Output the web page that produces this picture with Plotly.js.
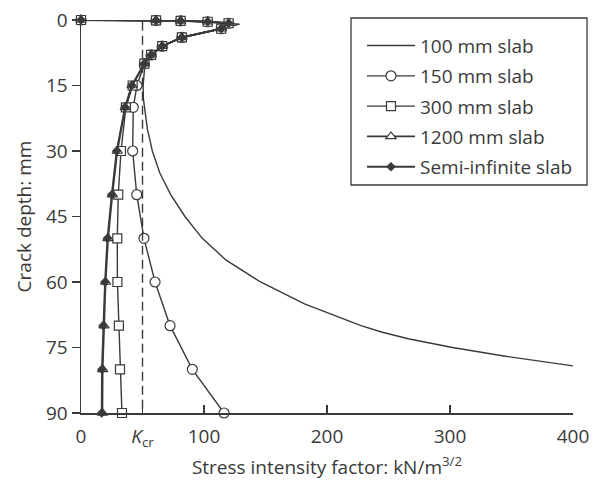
<!DOCTYPE html>
<html>
<head>
<meta charset="utf-8">
<script src="https://cdn.plot.ly/plotly-3.0.1.min.js"></script>
<style>html,body{margin:0;padding:0;background:#fff;}#chart{width:598px;height:484px;}</style>
</head>
<body>
<div id="chart"></div>
<script>
// Crack depth (mm) and stress intensity factor (kN/m^3/2)
var depth100 = [0, 0.1, 0.2, 0.4, 0.75, 0.95, 2, 4, 6, 8, 10, 15, 18, 20, 25, 30, 35, 40, 45, 50, 55, 60, 65, 70, 71.5, 73, 75, 77, 79.2];
var k100     = [0, 61, 81, 103, 120, 129, 114, 82, 66, 57, 52, 50.5, 50.7, 51.5, 54, 58, 64, 72.9, 84.5, 98.6, 118, 146, 181.7, 227.6, 245, 266, 302, 345, 400];

var depthPts = [0, 0.1, 0.2, 0.4, 0.75, 2, 4, 6, 8, 10, 15, 20, 30, 40, 50, 60, 70, 80, 90];
var k150  = [0, 61, 81, 103, 120, 114, 82, 66, 57, 51.5, 45.5, 42.5, 42, 45.3, 51.2, 60.2, 72.4, 90.5, 116.3];
var k300  = [0, 61, 81, 103, 120, 114, 82, 66, 57, 51.5, 42, 36.5, 32.5, 30.3, 29.5, 29.6, 30.8, 31.7, 33.3];
var k1200 = [0, 61, 81, 103, 120, 114, 82, 66, 57, 51.5, 41.5, 36, 29.5, 25.5, 22, 20, 18.7, 17.6, 17.4];
var kSemi = [0, 61, 81, 103, 120, 114, 82, 66, 57, 51.5, 41.2, 35.8, 29, 25, 21.5, 19.5, 18, 17, 16.8];

var seriesNames = ['100 mm slab', '150 mm slab', '300 mm slab', '1200 mm slab', 'Semi-infinite slab'];
var kCritical = 50;
var xTickVals = [0, 50, 100, 200, 300, 400];
var xTickText = ['0', '<i>K</i><sub>cr</sub>', '100', '200', '300', '400'];
var yTickVals = [0, 15, 30, 45, 60, 75, 90];

var ink = '#3a3a3a';
var font = {family: 'Open Sans, Noto Sans, sans-serif', size: 19, color: ink};

var traces = [
  {x: k100, y: depth100, name: seriesNames[0], mode: 'lines', line: {color: ink, width: 1.4}, legendgroup: 'a'},
  {x: k150, y: depthPts, name: seriesNames[1], mode: 'lines+markers', line: {color: ink, width: 1.4},
   marker: {symbol: 'circle', size: 10, color: '#fff', line: {color: ink, width: 1.2}}, legendgroup: 'b'},
  {x: k300, y: depthPts, name: seriesNames[2], mode: 'lines+markers', line: {color: ink, width: 1.4},
   marker: {symbol: 'square', size: 9, color: '#fff', line: {color: ink, width: 1.2}}, legendgroup: 'c'},
  {x: k1200, y: depthPts, name: seriesNames[3], mode: 'lines+markers', line: {color: ink, width: 1.8},
   marker: {symbol: 'triangle-up', size: 9, color: '#fff', line: {color: ink, width: 1.2}}, legendgroup: 'd'},
  {x: kSemi, y: depthPts, name: seriesNames[4], mode: 'lines+markers', line: {color: ink, width: 1.8},
   marker: {symbol: 'diamond', size: 7, color: ink, line: {color: ink, width: 0.5}}, legendgroup: 'e'}
];
traces.forEach(function(t){ t.cliponaxis = false; });

var layout = {
  width: 598, height: 484,
  margin: {l: 81, r: 25, t: 20, b: 71},
  paper_bgcolor: '#fff', plot_bgcolor: '#fff',
  font: font,
  showlegend: true,
  legend: {x: 0.5711, y: 0.983, xanchor: 'left', yanchor: 'top', bgcolor: 'rgba(0,0,0,0)',
           borderwidth: 0, font: font, tracegroupgap: 2.6, itemwidth: 48},
  xaxis: {range: [0, 400], tickmode: 'array', tickvals: xTickVals, ticktext: xTickText,
          ticks: 'inside', ticklen: 8, tickwidth: 1.3, tickcolor: ink, ticklabelstandoff: 6,
          showline: true, linecolor: ink, linewidth: 1.5, showgrid: false, zeroline: false,
          title: {text: 'Stress intensity factor: kN/m<sup>3/2</sup>', font: font, standoff: 10}, tickfont: font},
  yaxis: {range: [90, 0], tickmode: 'array', tickvals: yTickVals,
          ticks: 'outside', ticklen: 8, tickwidth: 1.3, tickcolor: ink,
          showline: true, linecolor: ink, linewidth: 1.5, showgrid: false, zeroline: false,
          title: {text: 'Crack depth: mm', font: font, standoff: 9}, tickfont: font},
  shapes: [
    {type: 'line', xref: 'x', yref: 'y', x0: kCritical, x1: kCritical, y0: 0.4, y1: 90,
     line: {color: ink, width: 1.4, dash: '9px,5px'}},
    {type: 'rect', xref: 'paper', yref: 'paper', x0: 0.5488, x1: 1.0285, y0: 0.5802, y1: 1.0051,
     fillcolor: '#fff', layer: 'above', line: {color: ink, width: 1.3}}
  ]
};

Plotly.newPlot('chart', traces, layout, {displayModeBar: false, staticPlot: true});
</script>
</body>
</html>
